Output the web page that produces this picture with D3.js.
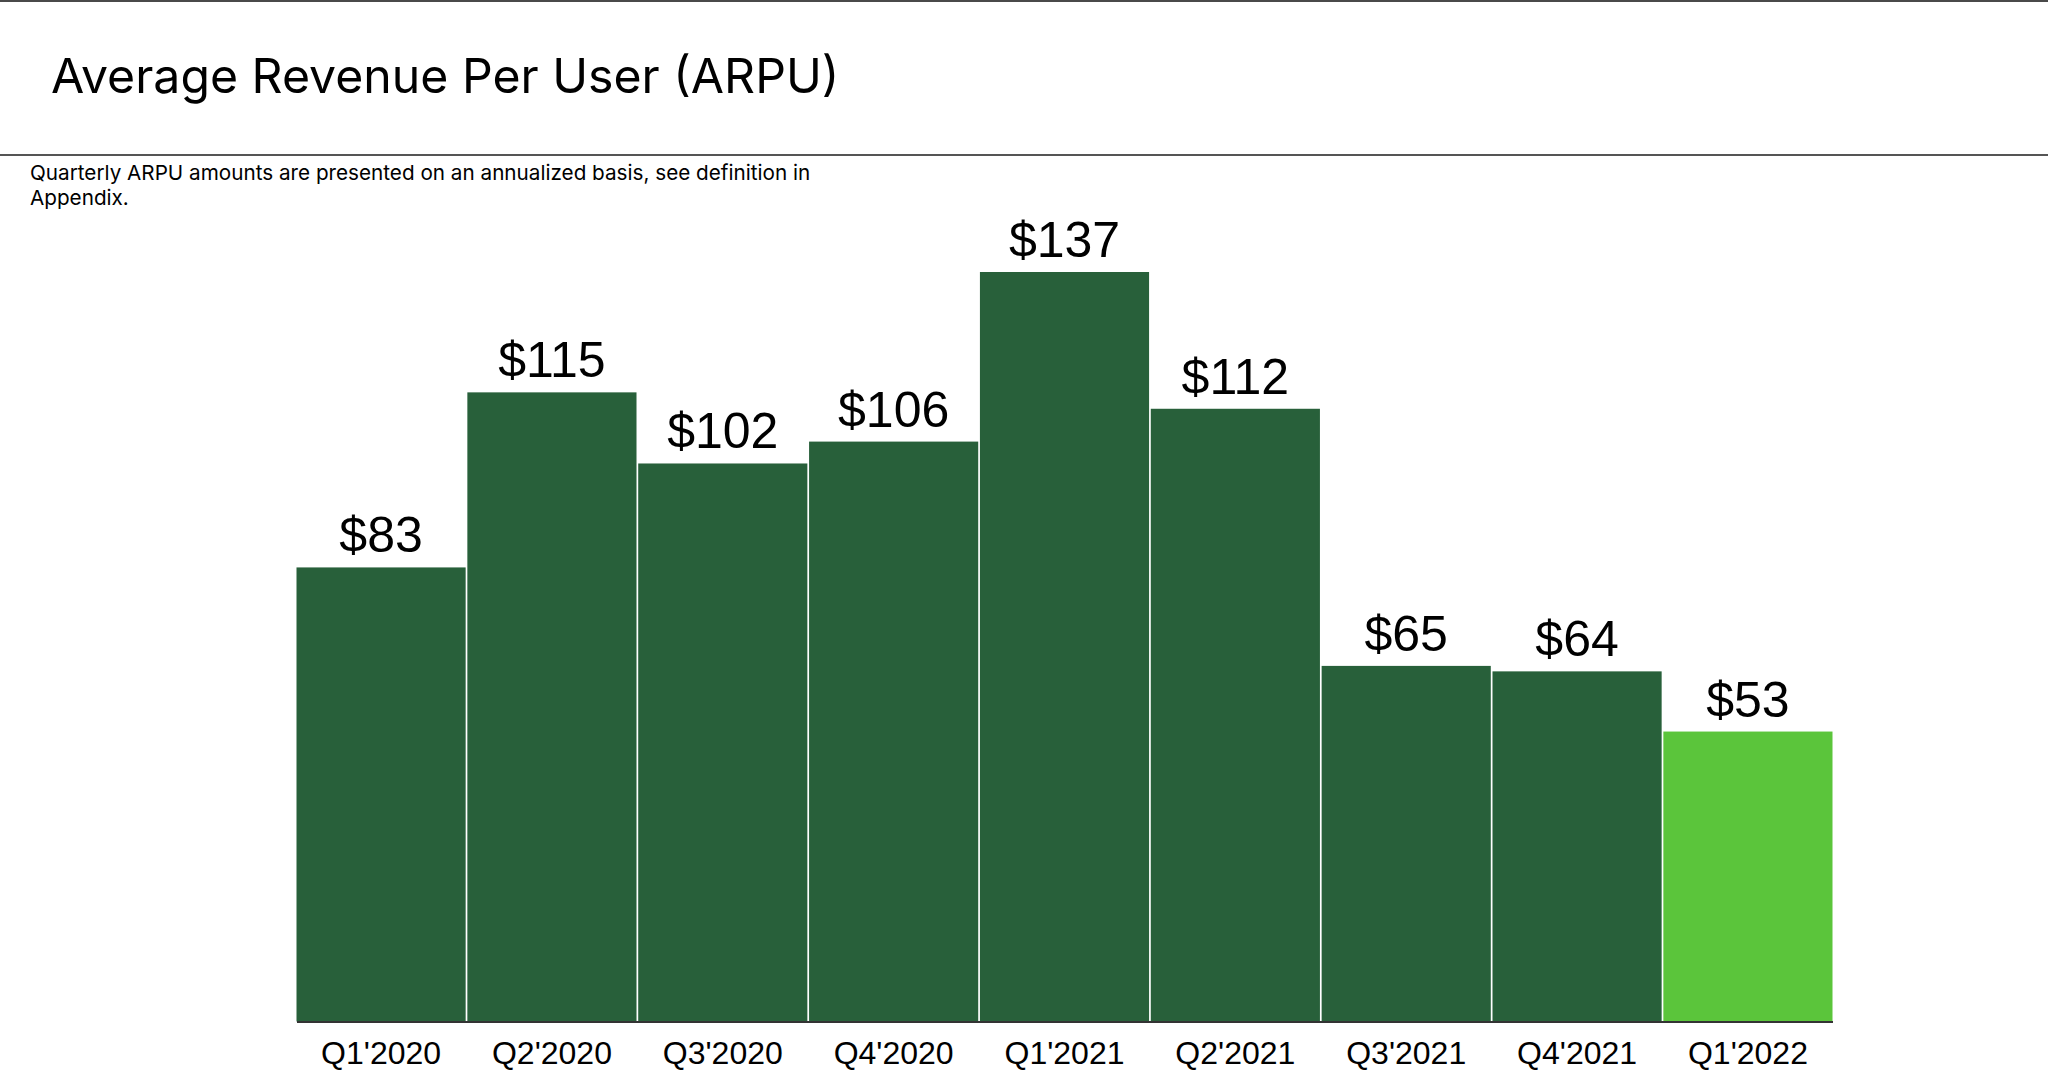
<!DOCTYPE html>
<html>
<head>
<meta charset="utf-8">
<script src="https://cdn.jsdelivr.net/npm/d3@7"></script>
<style>
  html, body { margin: 0; padding: 0; background: #fff; }
  svg { display: block; }
</style>
</head>
<body>
<svg id="chart" width="2048" height="1076"></svg>
<script>
const categories = ["Q1'2020", "Q2'2020", "Q3'2020", "Q4'2020", "Q1'2021", "Q2'2021", "Q3'2021", "Q4'2021", "Q1'2022"];
const arpu = [83, 115, 102, 106, 137, 112, 65, 64, 53];
const valueLabels = ["$83", "$115", "$102", "$106", "$137", "$112", "$65", "$64", "$53"];
const highlight = [false, false, false, false, false, false, false, false, true];

const titleText = "Average Revenue Per User (ARPU)";
const noteLines = ["Quarterly ARPU amounts are presented on an annualized basis, see definition in", "Appendix."];

const svg = d3.select("#chart");
const W = 2048, H = 1076;

// top rule
svg.append("rect").attr("x", 0).attr("y", 0).attr("width", W).attr("height", 2).attr("fill", "#4a4a4a");

// title
svg.append("text")
  .attr("x", 51).attr("y", 93)
  .attr("font-family", "Inter, 'Noto Sans', sans-serif")
  .attr("font-size", 48.2)
  .attr("fill", "#000")
  .text(titleText);

// separator rule
svg.append("rect").attr("x", 0).attr("y", 154).attr("width", W).attr("height", 2).attr("fill", "#555");

// note
svg.append("g").selectAll("text").data(noteLines).join("text")
  .attr("x", 30).attr("y", (d, i) => 180 + i * 25)
  .attr("font-family", "Inter, 'Noto Sans', sans-serif")
  .attr("font-size", 20.7)
  .attr("fill", "#000")
  .text(d => d);

const x = d3.scaleBand().domain(categories).range([296.5, 1832.5]).paddingInner(0.01).paddingOuter(0);
const y = d3.scaleLinear().domain([0, 137]).range([1021.5, 272]);

const data = categories.map((c, i) => ({ c, v: arpu[i], label: valueLabels[i], hi: highlight[i] }));

svg.append("g").selectAll("rect").data(data).join("rect")
  .attr("x", d => x(d.c))
  .attr("y", d => y(d.v))
  .attr("width", x.bandwidth())
  .attr("height", d => y(0) - y(d.v))
  .attr("fill", d => d.hi ? "#5bc53b" : "#28603a");

svg.append("g").selectAll("text").data(data).join("text")
  .attr("x", d => x(d.c) + x.bandwidth() / 2)
  .attr("y", d => y(d.v) - 15)
  .attr("text-anchor", "middle")
  .attr("font-family", "'Liberation Sans', Arial, sans-serif")
  .attr("font-size", 50)
  .attr("fill", "#000")
  .text(d => d.label);

// x axis
const xAxis = svg.append("g")
  .attr("transform", `translate(0,${y(0)})`)
  .call(d3.axisBottom(x).tickSize(0).tickPadding(0));
xAxis.select(".domain").attr("stroke", "#333").attr("stroke-width", 2);
xAxis.selectAll(".tick text")
  .attr("dy", 0)
  .attr("y", 42)
  .attr("font-family", "'Liberation Sans', Arial, sans-serif")
  .attr("font-size", 32)
  .attr("fill", "#000");
</script>
</body>
</html>
